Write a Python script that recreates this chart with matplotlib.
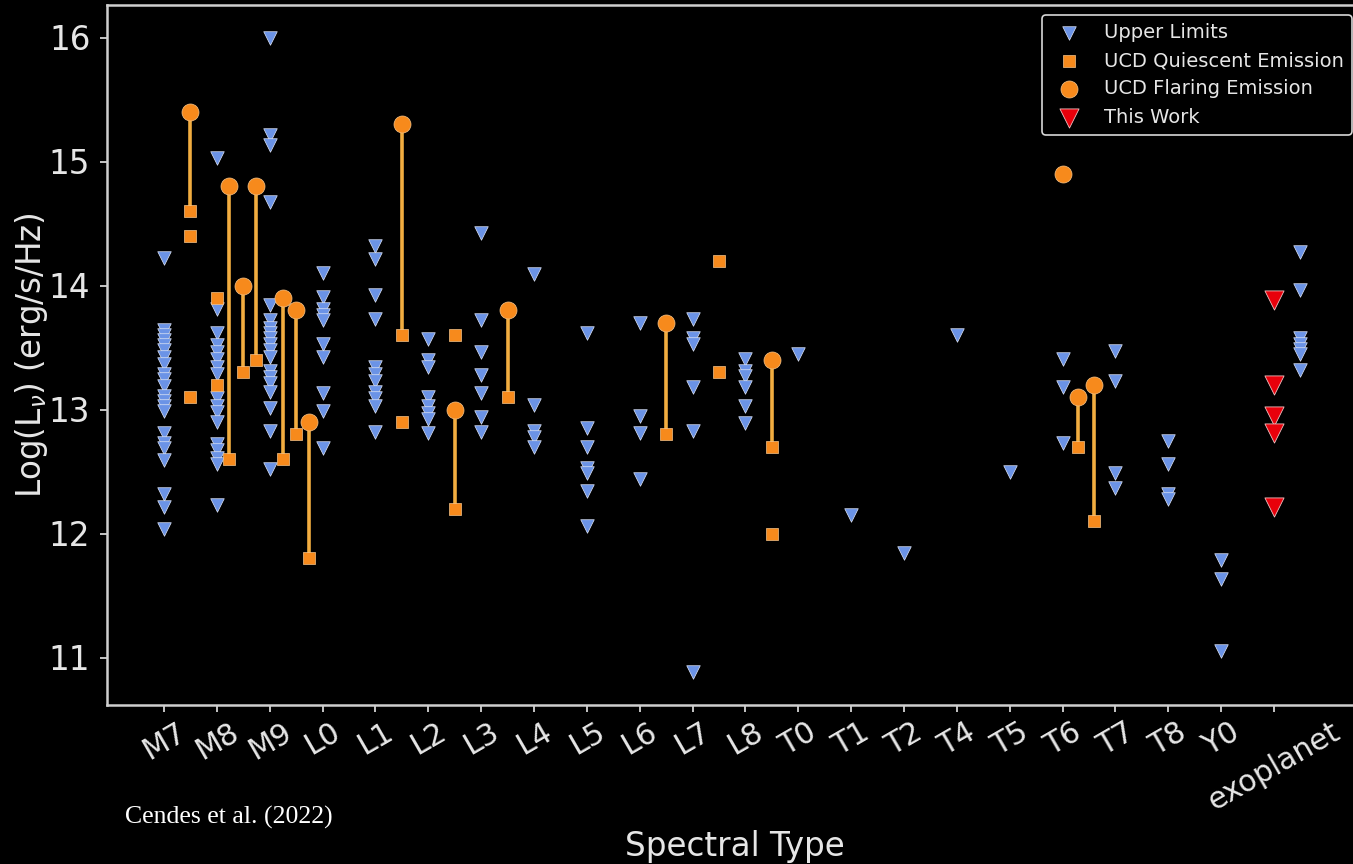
import matplotlib
matplotlib.use("Agg")
import matplotlib.pyplot as plt
import numpy as np

# Spectral-type axis (one slot per type, last slot holds the exoplanet samples)
spectral_types = ['M7', 'M8', 'M9', 'L0', 'L1', 'L2', 'L3', 'L4', 'L5', 'L6', 'L7',
                  'L8', 'T0', 'T1', 'T2', 'T4', 'T5', 'T6', 'T7', 'T8', 'Y0', 'exoplanet']

# Upper limits, log L_nu (erg/s/Hz), grouped by spectral type
ul_M7 = [14.22, 13.64, 13.60, 13.56, 13.52, 13.48, 13.42, 13.37, 13.29, 13.25, 13.19,
         13.11, 13.07, 13.03, 12.99, 12.81, 12.73, 12.69, 12.59, 12.32, 12.21, 12.04]
ul_M8 = [15.03, 13.81, 13.62, 13.52, 13.46, 13.41, 13.34, 13.29, 13.09, 13.03, 12.98,
         12.90, 12.72, 12.67, 12.61, 12.56, 12.23]
ul_M9 = [16.00, 15.21, 15.13, 14.67, 13.84, 13.72, 13.66, 13.62, 13.58, 13.53, 13.48,
         13.42, 13.31, 13.26, 13.21, 13.14, 13.01, 12.83, 12.52]
ul_L0 = [14.10, 13.91, 13.81, 13.76, 13.72, 13.53, 13.42, 13.13, 12.99, 12.69]
ul_L1 = [14.32, 14.21, 13.92, 13.73, 13.34, 13.29, 13.23, 13.14, 13.09, 13.03, 12.82]
ul_L2 = [13.57, 13.40, 13.34, 13.10, 13.03, 12.97, 12.92, 12.81]
ul_L3 = [14.42, 13.72, 13.46, 13.28, 13.13, 12.94, 12.82]
ul_L4 = [14.09, 13.04, 12.83, 12.78, 12.70]
ul_L5 = [13.62, 12.85, 12.70, 12.53, 12.49, 12.34, 12.06]
ul_L6 = [13.70, 12.95, 12.81, 12.44]
ul_L7 = [13.73, 13.58, 13.53, 13.18, 12.83, 10.88]
ul_L8 = [13.41, 13.31, 13.27, 13.18, 13.03, 12.89]
ul_T0 = [13.45]
ul_T1 = [12.15]
ul_T2 = [11.84]
ul_T4 = [13.60]
ul_T5 = [12.50]
ul_T6 = [13.41, 13.18, 12.73]
ul_T7 = [13.47, 13.23, 12.49, 12.37]
ul_T8 = [12.75, 12.56, 12.32, 12.28]
ul_Y0 = [11.79, 11.63, 11.05]
ul_exoplanet = [14.27, 13.96, 13.58, 13.53, 13.49, 13.45, 13.32]

upper_limit_groups = [ul_M7, ul_M8, ul_M9, ul_L0, ul_L1, ul_L2, ul_L3, ul_L4, ul_L5,
                      ul_L6, ul_L7, ul_L8, ul_T0, ul_T1, ul_T2, ul_T4, ul_T5, ul_T6,
                      ul_T7, ul_T8, ul_Y0]
upper_limit_slots = list(range(21))
exoplanet_ul_slot = 21.5

# Sources with both flaring and quiescent detections
pair_pos = [0.5, 1.23, 1.49, 1.74, 2.25, 2.5, 2.74, 4.5, 5.5, 6.5, 9.5, 11.5, 17.3, 17.6]
pair_flare = [15.4, 14.8, 14.0, 14.8, 13.9, 13.8, 12.9, 15.3, 13.0, 13.8, 13.7, 13.4, 13.1, 13.2]
pair_quiescent = [14.6, 12.6, 13.3, 13.4, 12.6, 12.8, 11.8, 13.6, 12.2, 13.1, 12.8, 12.7, 12.7, 12.1]

# Quiescent-only detections
quiescent_pos = [0.5, 0.5, 1.0, 1.0, 4.5, 5.5, 10.5, 10.5, 11.5]
quiescent_lum = [14.4, 13.1, 13.9, 13.2, 12.9, 13.6, 14.2, 13.3, 12.0]

# Flare-only detections
flare_pos = [17.0]
flare_lum = [14.9]

# Exoplanet limits from this work
this_work_slot = 21
this_work_lum = [13.88, 13.20, 12.95, 12.81, 12.21]

# ---------------------------------------------------------------------------
W, H, DPI = 1353, 864, 100
fg = '#e6e6e6'
blue = '#6b93e6'
orange = '#f78a1c'
link = '#f2ad40'

fig = plt.figure(figsize=(W / DPI, H / DPI), dpi=DPI, facecolor='black')
ax = fig.add_axes([107 / W, 1 - 705 / H, (1362 - 107) / W, (705 - 5) / H])
ax.set_facecolor('black')

ul_x = np.concatenate([np.full(len(g), s, dtype=float)
                       for g, s in zip(upper_limit_groups, upper_limit_slots)]
                      + [np.full(len(ul_exoplanet), exoplanet_ul_slot)])
ul_y = np.concatenate([np.asarray(g, dtype=float) for g in upper_limit_groups]
                      + [np.asarray(ul_exoplanet, dtype=float)])

# connectors between flaring and quiescent levels of the same source
ax.vlines(pair_pos, pair_quiescent, pair_flare, colors=link, linewidth=2.6, zorder=1)

h_ul = ax.scatter(ul_x, ul_y, marker='v', s=95, c=blue, edgecolors='#dde4f5',
                  linewidths=0.5, zorder=3, label='Upper Limits')
h_q = ax.scatter(list(pair_pos) + list(quiescent_pos),
                 list(pair_quiescent) + list(quiescent_lum),
                 marker='s', s=85, c=orange, edgecolors='#f6c48a', linewidths=0.5,
                 zorder=4, label='UCD Quiescent Emission')
h_f = ax.scatter(list(pair_pos) + list(flare_pos), list(pair_flare) + list(flare_lum),
                 marker='o', s=150, c=orange, edgecolors='#f6c48a', linewidths=0.5,
                 zorder=4, label='UCD Flaring Emission')
h_tw = ax.scatter(np.full(len(this_work_lum), this_work_slot), this_work_lum,
                  marker='v', s=190, c='#e8000b', edgecolors='#f0c0c0', linewidths=0.6,
                  zorder=5, label='This Work')

px_per_slot = 52.86
ax.set_xlim(-(164 - 107) / px_per_slot, (1362 - 164) / px_per_slot)
ax.set_ylim(11 - 47.5 / 124, 16 + 32.5 / 124)

ax.set_xticks(range(len(spectral_types)))
ax.set_xticklabels(spectral_types, rotation=30, ha='center')
ax.set_yticks([11, 12, 13, 14, 15, 16])

ax.tick_params(colors=fg, length=5, width=1.2, labelcolor=fg)
ax.tick_params(axis='x', labelsize=21.5, pad=4)
ax.tick_params(axis='y', labelsize=23.5, pad=7)
for sp in ax.spines.values():
    sp.set_color('#cfcfcf')
    sp.set_linewidth(1.8)

ax.set_ylabel(r'Log(L$_{\nu}$) (erg/s/Hz)', color=fg, fontsize=23.5, labelpad=-1)
ax.set_xlabel('Spectral Type', color=fg, fontsize=23.5, labelpad=10)

leg = ax.legend(handles=[h_ul, h_q, h_f, h_tw], loc='upper right',
                bbox_to_anchor=(1352 / W, 1 - 15 / H), bbox_transform=fig.transFigure,
                borderaxespad=0, fontsize=14, facecolor='black', edgecolor='#d8d8d8',
                framealpha=1, labelspacing=0.48, scatterpoints=1)
for t in leg.get_texts():
    t.set_color(fg)
leg.get_frame().set_linewidth(1.2)

fig.text(125 / W, 1 - 817 / H, 'Cendes et al. (2022)', family='Liberation Serif',
         fontsize=18.5, color='white', ha='left', va='center')

fig.savefig('out.png', dpi=DPI, facecolor='black')
